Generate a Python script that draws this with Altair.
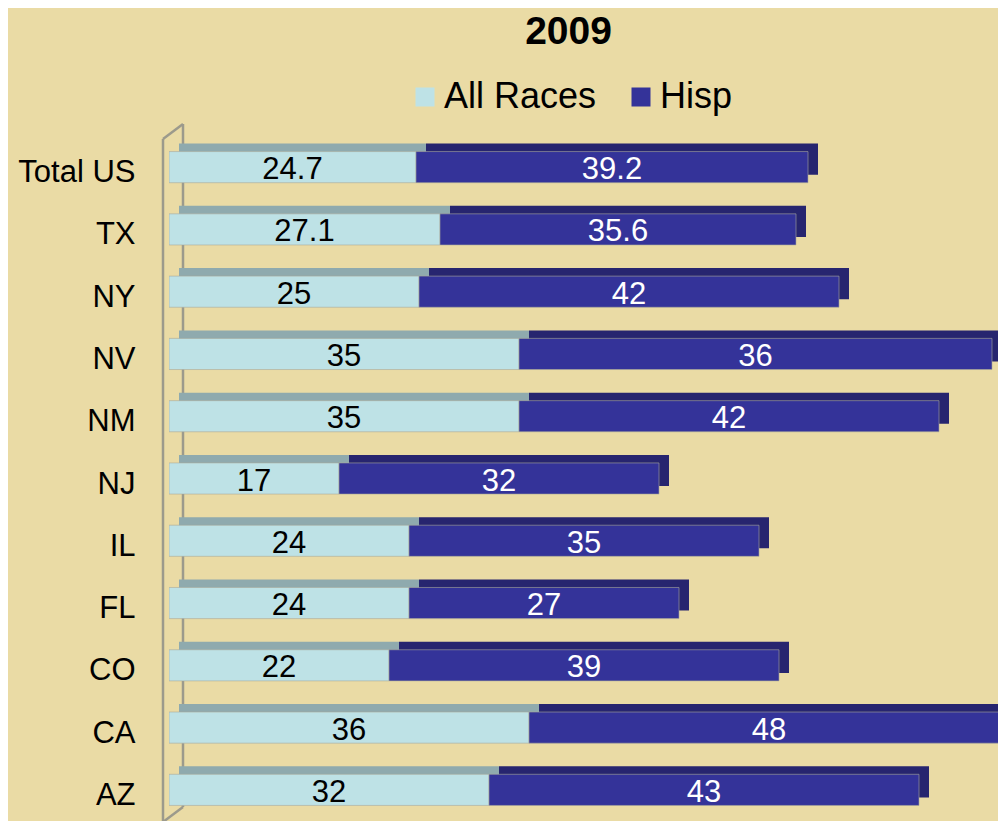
import altair as alt
import pandas as pd

states = ["Total US", "TX", "NY", "NV", "NM", "NJ", "IL", "FL", "CO", "CA", "AZ"]
all_races = [24.7, 27.1, 25, 35, 35, 17, 24, 24, 22, 36, 32]
all_labels = ["24.7", "27.1", "25", "35", "35", "17", "24", "24", "22", "36", "32"]
hisp = [39.2, 35.6, 42, 47.3, 42, 32, 35, 27, 39, 48, 43]
hisp_labels = ["39.2", "35.6", "42", "36", "42", "32", "35", "27", "39", "48", "43"]
series = ["All Races", "Hisp"]

front_colors = ["#BEE2E6", "#343399"]
top_colors = ["#8FAAAE", "#27256F"]
FONT = "Liberation Sans"

rows = []
for s, a, al, h, hl in zip(states, all_races, all_labels, hisp, hisp_labels):
    rows.append({"state": s, "series": "All Races", "start": 0, "end": a,
                 "mid": a / 2, "label": al, "tcolor": "black"})
    rows.append({"state": s, "series": "Hisp", "start": a, "end": a + h,
                 "mid": a + h / 2, "label": hl, "tcolor": "white"})
df = pd.DataFrame(rows)
one = pd.DataFrame({"k": [0]})

W, H = 829, 685
xscale = alt.Scale(domain=[0, 82.9], nice=False, zero=True)
yscale = alt.Scale(paddingInner=0.5, paddingOuter=0.25)

Y = alt.Y("state:N", sort=states, scale=yscale,
          axis=alt.Axis(title=None, domain=False, ticks=False, tickSize=0,
                        labelFont=FONT, labelFontSize=31, labelColor="black",
                        labelPadding=34, labelOffset=6))

wall_color = "#9C9A8C"
walls = [
    alt.Chart(one).mark_rule(color=wall_color, strokeWidth=2.5).encode(
        x=alt.value(-6), x2=alt.value(-6), y=alt.value(3), y2=alt.value(H + 4)),
    alt.Chart(one).mark_rule(color=wall_color, strokeWidth=2.5).encode(
        x=alt.value(14), x2=alt.value(14), y=alt.value(-12), y2=alt.value(H - 14)),
    alt.Chart(one).mark_rule(color=wall_color, strokeWidth=2.5).encode(
        x=alt.value(-6), x2=alt.value(14), y=alt.value(3), y2=alt.value(-12)),
    alt.Chart(one).mark_rule(color=wall_color, strokeWidth=2.5).encode(
        x=alt.value(-6), x2=alt.value(14), y=alt.value(H + 1), y2=alt.value(H - 14)),
]

back = alt.Chart(df).mark_bar(xOffset=10, x2Offset=10, yOffset=-8, y2Offset=-8,
                              clip=True).encode(
    x=alt.X("start:Q", scale=xscale, axis=None),
    x2="end:Q",
    y=Y,
    color=alt.Color("series:N", scale=alt.Scale(domain=series, range=top_colors), legend=None),
    order=alt.Order("series:N"),
)

front = alt.Chart(df).mark_bar(clip=True, stroke="#A9A99A", strokeWidth=0.6).encode(
    x=alt.X("start:Q", scale=xscale, axis=None),
    x2="end:Q",
    y=Y,
    color=alt.Color("series:N", scale=alt.Scale(domain=series, range=front_colors),
                    legend=alt.Legend(title=None, orient="none", legendX=238, legendY=-57,
                                      direction="horizontal", symbolType="square",
                                      symbolSize=361, symbolStrokeWidth=0,
                                      labelFont=FONT, labelFontSize=36, labelColor="black",
                                      labelOffset=1, columnPadding=26, padding=0)),
    order=alt.Order("series:N"),
)

texts = alt.Chart(df).mark_text(font=FONT, fontSize=31, baseline="middle", align="center",
                               dy=3, clip=True).encode(
    x=alt.X("mid:Q", scale=xscale, axis=None),
    y=Y,
    text="label:N",
    color=alt.Color("tcolor:N", scale=None),
)

bars = alt.layer(back, front).resolve_scale(color="independent")

chart = alt.layer(*walls, bars, texts).resolve_scale(color="independent").properties(
    width=W, height=H,
    title=alt.Title("2009", font=FONT, fontSize=39, fontWeight="bold", color="black",
                    anchor="middle", frame="group", offset=27, dx=-15),
    autosize=alt.AutoSizeParams(type="none"),
    padding={"left": 161, "top": 128, "right": 0, "bottom": 0},
    background="#EADBA5",
).configure_view(stroke=None)

chart.save("out.html", embed_options={"renderer": "svg", "actions": False})
